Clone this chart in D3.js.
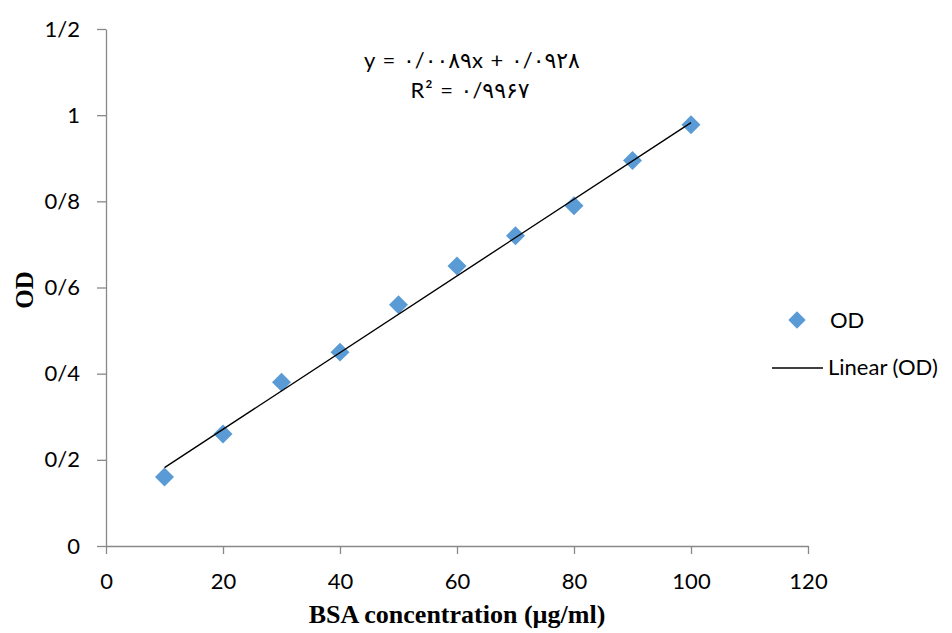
<!DOCTYPE html>
<html><head><meta charset="utf-8">
<script src="https://cdn.jsdelivr.net/npm/d3@7"></script>
<style>body{margin:0;background:#fff}svg{display:block}</style>
</head><body>
<script>
const concentrations = [10, 20, 30, 40, 50, 60, 70, 80, 90, 100];
const odValues = [0.16, 0.26, 0.38, 0.45, 0.56, 0.65, 0.72, 0.79, 0.895, 0.978];
const trendSlope = 0.0089;
const trendIntercept = 0.0928;
const xTicks = [0, 20, 40, 60, 80, 100, 120];
const yTicks = [0, 0.2, 0.4, 0.6, 0.8, 1, 1.2];
const yTickLabels = ["0", "0/2", "0/4", "0/6", "0/8", "1", "1/2"];
const equationText = "y = ۰/۰۰۸۹x + ۰/۰۹۲۸";
const r2Text = "R² = ۰/۹۹۶۷";
const xTitle = "BSA concentration (µg/ml)";
const yTitle = "OD";
const legendLabels = ["OD", "Linear (OD)"];

const W = 952, H = 633;
const svg = d3.select("body").append("svg").attr("width", W).attr("height", H);
const x = d3.scaleLinear().domain([0, 120]).range([106, 808]);
const y = d3.scaleLinear().domain([0, 1.2]).range([546, 29]);
const axisColor = "#898989";
const tickFont = "Lato, 'DejaVu Sans', sans-serif";
const serif = "'Liberation Serif', 'Times New Roman', serif";

// axes
const gx = svg.append("g").attr("transform", "translate(0,546)")
  .call(d3.axisBottom(x).tickValues(xTicks).tickSize(8).tickSizeOuter(0).tickPadding(19));
const gy = svg.append("g").attr("transform", "translate(106,0)")
  .call(d3.axisLeft(y).tickValues(yTicks).tickFormat((d,i)=>yTickLabels[i]).tickSize(9).tickSizeOuter(0).tickPadding(17));
[gx, gy].forEach(g => {
  g.selectAll("path, line").attr("stroke", axisColor).attr("stroke-width", 1.3);
  g.selectAll("text").attr("font-family", tickFont).attr("font-size", 22).attr("fill", "#000");
});

// points
const diamond = d3.symbol().type(d3.symbolSquare).size(180);
svg.selectAll("path.pt").data(concentrations).join("path").attr("class", "pt")
  .attr("d", diamond)
  .attr("transform", (d, i) => `translate(${x(d)},${y(odValues[i])}) rotate(45)`)
  .attr("fill", "#5B9BD5");

// trendline
const xs = d3.extent(concentrations);
svg.append("line")
  .attr("x1", x(xs[0])).attr("y1", y(trendSlope * xs[0] + trendIntercept))
  .attr("x2", x(xs[1])).attr("y2", y(trendSlope * xs[1] + trendIntercept))
  .attr("stroke", "#000").attr("stroke-width", 1.4);

// equation
svg.append("text").attr("x", 472).attr("y", 68).attr("text-anchor", "middle")
  .attr("font-family", tickFont).attr("font-size", 22).attr("letter-spacing", 1).attr("direction", "ltr")
  .text(equationText);
svg.append("text").attr("x", 470).attr("y", 98).attr("text-anchor", "middle")
  .attr("font-family", tickFont).attr("font-size", 22).attr("letter-spacing", 1).attr("direction", "ltr")
  .text(r2Text);

// axis titles
svg.append("text").attr("x", 457).attr("y", 623).attr("text-anchor", "middle")
  .attr("font-family", serif).attr("font-weight", "bold")
  .attr("font-size", 26).text(xTitle);
svg.append("text").attr("transform", "translate(33,290) rotate(-90)").attr("text-anchor", "middle")
  .attr("font-family", serif).attr("font-weight", "bold")
  .attr("font-size", 25).text(yTitle);

// legend
svg.append("path").attr("d", d3.symbol().type(d3.symbolSquare).size(150))
  .attr("transform", "translate(797,320) rotate(45)").attr("fill", "#5B9BD5");
svg.append("text").attr("x", 830).attr("y", 328).attr("font-family", tickFont).attr("font-size", 22).text(legendLabels[0]);
svg.append("line").attr("x1", 772).attr("x2", 823).attr("y1", 368).attr("y2", 368).attr("stroke", "#000").attr("stroke-width", 1.3);
svg.append("text").attr("x", 828).attr("y", 375).attr("font-family", tickFont).attr("font-size", 22).text(legendLabels[1]);
</script>
</body></html>
